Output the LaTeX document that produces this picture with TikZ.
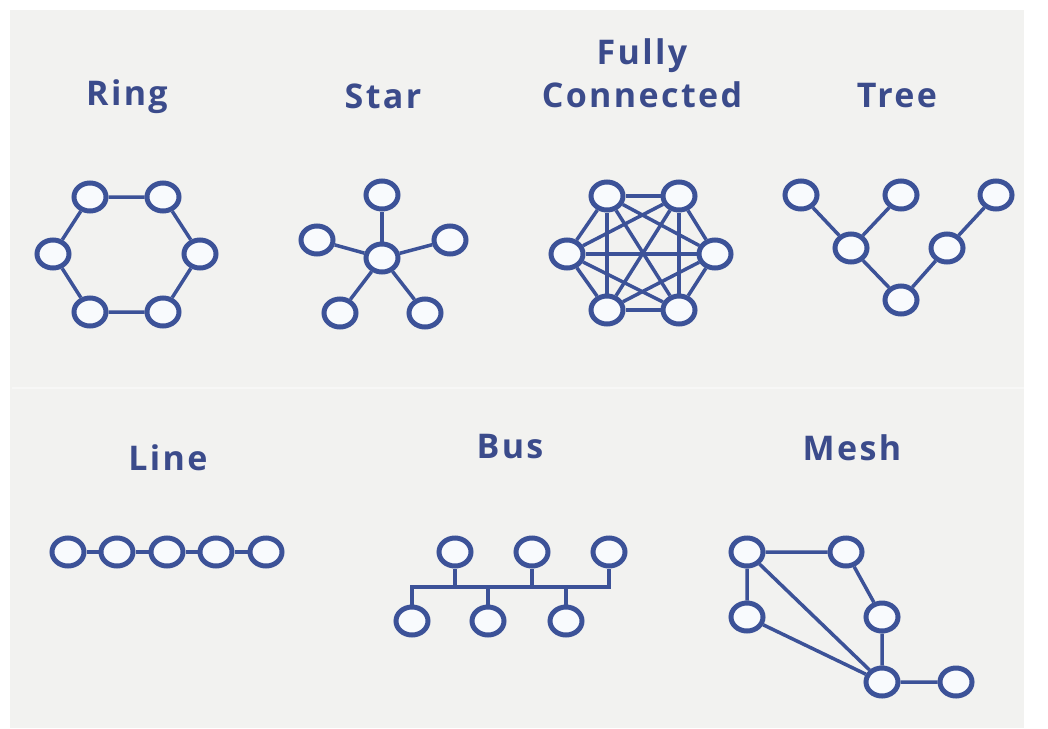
\documentclass[tikz,border=0pt]{standalone}
\usepackage{fontspec}
\setmainfont{Open Sans}
\newfontfamily\titlefont[LetterSpace=7]{Open Sans Bold}
\usetikzlibrary{shapes.geometric,backgrounds}
\definecolor{edgeblue}{HTML}{3C5298}
\definecolor{textblue}{HTML}{3B4B8B}
\definecolor{panel}{HTML}{F2F2F0}
\definecolor{nodefill}{HTML}{F8FAFD}
\tikzset{
  host/.style={ellipse,draw=edgeblue,fill=nodefill,line width=5pt,
    minimum width=32pt,minimum height=28pt,inner sep=0pt},
  link/.style={draw=edgeblue,line width=3.5pt},
  title/.style={text=textblue,font=\titlefont\fontsize{34}{43}\selectfont,
    align=center,inner sep=0pt}
}
\begin{document}
\begin{tikzpicture}[x=1pt,y=-1pt]
\useasboundingbox (0,0) rectangle (1048,728);
\begin{scope}[on background layer]
  \fill[white] (0,0) rectangle (1048,728);
  \fill[panel] (10,10) rectangle (1024,728);
  \draw[white,line width=1.5pt,opacity=0.45] (12,388) -- (1024,388);
\end{scope}

% titles
\node[title] (tring) at (127,97) {Ring};
\node[title] (tstar) at (383,96) {Star};
\node[title] (tfull) at (642,73) {Fully\\Connected};
\node[title] (ttree) at (897,96) {Tree};
\node[title] (tline) at (168,458) {Line};
\node[title] (tbus)  at (510,447) {Bus};
\node[title] (tmesh) at (852,448) {Mesh};

% ring
\node[host] (r1) at (90,197) {};
\node[host] (r2) at (163,197) {};
\node[host] (r3) at (200,254) {};
\node[host] (r4) at (163,312) {};
\node[host] (r5) at (90,312) {};
\node[host] (r6) at (53,254) {};
\begin{scope}[on background layer]
  \draw[link] (r1) -- (r2) -- (r3) -- (r4) -- (r5) -- (r6) -- (r1);
\end{scope}

% star
\node[host] (s0) at (382,258) {};
\node[host] (s1) at (382,195) {};
\node[host] (s2) at (450,240) {};
\node[host] (s3) at (425,313) {};
\node[host] (s4) at (340,313) {};
\node[host] (s5) at (317,240) {};
\begin{scope}[on background layer]
  \foreach \k in {1,...,5} \draw[link] (s0) -- (s\k);
\end{scope}

% fully connected
\node[host] (f1) at (607,196) {};
\node[host] (f2) at (679,196) {};
\node[host] (f3) at (715,254) {};
\node[host] (f4) at (679,310) {};
\node[host] (f5) at (607,310) {};
\node[host] (f6) at (567,254) {};
\begin{scope}[on background layer]
  \foreach \a/\b in {1/2,1/3,1/4,1/5,1/6,2/3,2/4,2/5,2/6,3/4,3/5,3/6,4/5,4/6,5/6}
    \draw[link] (f\a) -- (f\b);
\end{scope}

% tree
\node[host] (t1) at (801,195) {};
\node[host] (t2) at (901,195) {};
\node[host] (t3) at (996,195) {};
\node[host] (t4) at (851,248) {};
\node[host] (t5) at (947,248) {};
\node[host] (t6) at (901,300) {};
\begin{scope}[on background layer]
  \draw[link] (t1) -- (t4) -- (t6) -- (t5) -- (t3);
  \draw[link] (t2) -- (t4);
\end{scope}

% line
\node[host] (l1) at (68,552) {};
\node[host] (l2) at (117,552) {};
\node[host] (l3) at (167,552) {};
\node[host] (l4) at (216,552) {};
\node[host] (l5) at (266,552) {};
\begin{scope}[on background layer]
  \draw[link] (l1) -- (l2) -- (l3) -- (l4) -- (l5);
\end{scope}

% bus
\node[host] (b1) at (455,552) {};
\node[host] (b2) at (532,552) {};
\node[host] (b3) at (609,552) {};
\node[host] (b4) at (412,621) {};
\node[host] (b5) at (488,621) {};
\node[host] (b6) at (566,621) {};
\coordinate (busl) at (412,587);
\coordinate (busr) at (609,587);
\begin{scope}[on background layer]
  \draw[link,line join=miter] (b4) -- (busl) -- (busr) -- (b3);
  \draw[link] (b1) -- (b1 |- busl);
  \draw[link] (b2) -- (b2 |- busl);
  \draw[link] (b5) -- (b5 |- busl);
  \draw[link] (b6) -- (b6 |- busl);
\end{scope}

% mesh
\node[host] (m1) at (747,552) {};
\node[host] (m2) at (846,552) {};
\node[host] (m3) at (747,617) {};
\node[host] (m4) at (882,617) {};
\node[host] (m5) at (882,682) {};
\node[host] (m6) at (956,682) {};
\begin{scope}[on background layer]
  \draw[link] (m1) -- (m2) -- (m4) -- (m5) -- (m6);
  \draw[link] (m1) -- (m3) -- (m5);
  \draw[link] (m1) -- (m5);
\end{scope}
\end{tikzpicture}
\end{document}
